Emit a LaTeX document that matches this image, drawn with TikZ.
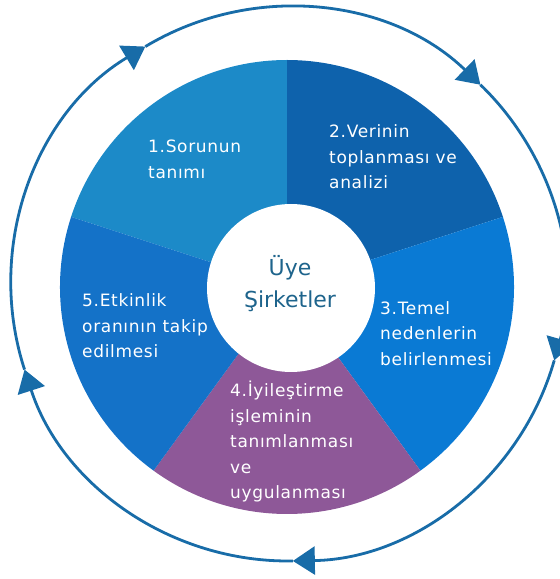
\documentclass[tikz,border=0pt]{standalone}
\usepackage{fontspec}
\setmainfont{DejaVu Sans}
\newfontfamily\segfont{DejaVu Sans}[LetterSpace=4]
\usetikzlibrary{arrows.meta}
\definecolor{secA}{RGB}{28,138,200}
\definecolor{secB}{RGB}{14,98,172}
\definecolor{secC}{RGB}{10,122,212}
\definecolor{secD}{RGB}{142,88,152}
\definecolor{secE}{RGB}{20,114,200}
\definecolor{ringcol}{RGB}{24,108,168}
\definecolor{hubtext}{RGB}{30,100,140}
\begin{document}
\begin{tikzpicture}[x=1pt,y=1pt,
  seg/.style={text=white, font=\segfont\fontsize{17}{25.5}\selectfont, align=left, anchor=west, inner sep=0pt},
  hubtxt/.style={text=hubtext, font=\fontsize{22}{32}\selectfont, align=center, inner sep=0pt},
  ring/.style={draw=ringcol, line width=2.8pt, -{Triangle[length=22pt,width=28pt]}}]
\useasboundingbox (0,0) rectangle (560,579);
\coordinate (O) at (287,292);
% donut sectors
\fill[secA] (O) -- ++(90:227) arc[start angle=90,end angle=162,radius=227] -- cycle;
\fill[secB] (O) -- ++(18:227) arc[start angle=18,end angle=90,radius=227] -- cycle;
\fill[secC] (O) -- ++(-54:227) arc[start angle=-54,end angle=18,radius=227] -- cycle;
\fill[secD] (O) -- ++(-126:227) arc[start angle=-126,end angle=-54,radius=227] -- cycle;
\fill[secE] (O) -- ++(162:227) arc[start angle=162,end angle=234,radius=227] -- cycle;
% hub
\coordinate (H) at (291,291);
\fill[white] (H) circle[radius=84];
\node[hubtxt] (hub) at (290,295) {Üye\\Şirketler};
% sector labels
\node[seg] (s1) at (148,419.5) {1.Sorunun\\tanımı};
\node[seg] (s2) at (329,422) {2.Verinin\\toplanması ve\\analizi};
\node[seg] (s3) at (380,245.5) {3.Temel\\nedenlerin\\belirlenmesi};
\node[seg] (s4) at (230,137.5) {4.İyileştirme\\işleminin\\tanımlanması\\ve\\uygulanması};
\node[seg] (s5) at (82,253) {5.Etkinlik\\oranının takip\\edilmesi};
% outer cycle arrows
\coordinate (R) at (288,295);
\begin{scope}
\clip (0,0) rectangle (560,579);
\path (R) ++(121:277) coordinate (a1);
\draw[ring] (a1) arc[start angle=121,end angle=46,radius=277] coordinate (a2);
\draw[ring] (a2) arc[start angle=46,end angle=-16,radius=277] coordinate (a3);
\draw[ring] (a3) arc[start angle=-16,end angle=-89,radius=277] coordinate (a4);
\draw[ring] (a4) arc[start angle=-89,end angle=-162,radius=277] coordinate (a5);
\draw[ring] (a5) arc[start angle=198,end angle=121,radius=277];
\end{scope}
\end{tikzpicture}
\end{document}
